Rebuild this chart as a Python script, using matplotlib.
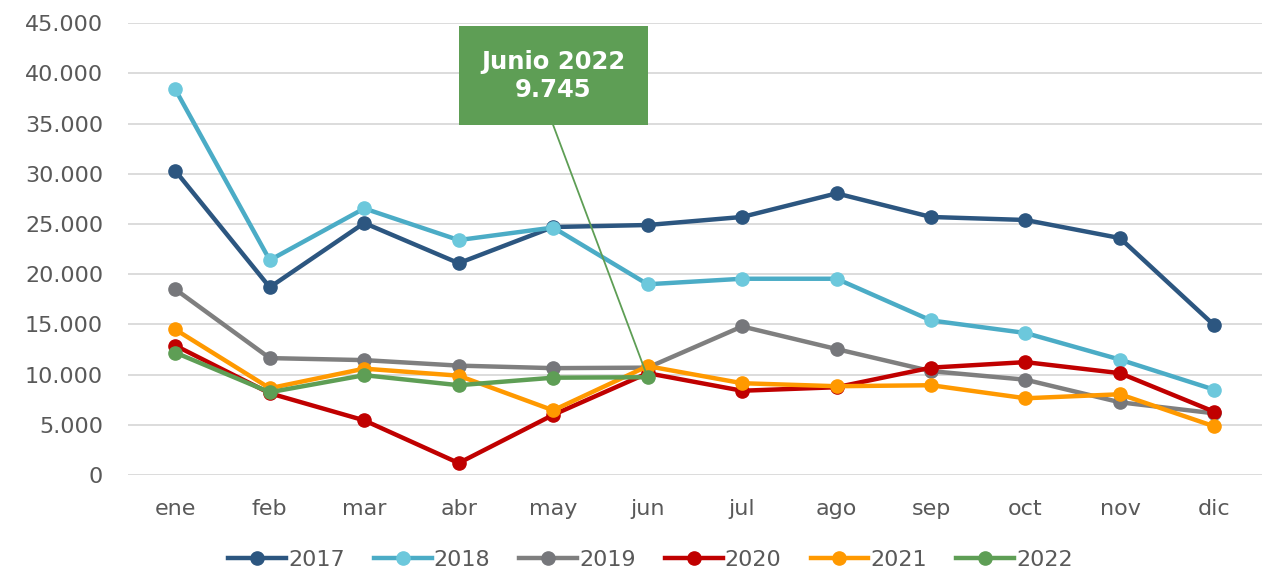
import matplotlib.pyplot as plt
from matplotlib.patches import Rectangle
from matplotlib.ticker import FuncFormatter, MultipleLocator

# meses y series
MESES = ["ene", "feb", "mar", "abr", "may", "jun", "jul", "ago", "sep", "oct", "nov", "dic"]
Y2017 = [30300, 18700, 25100, 21100, 24700, 24900, 25700, 28050, 25700, 25400, 23600, 14900]
Y2018 = [38400, 21400, 26550, 23400, 24650, 19000, 19550, 19550, 15400, 14150, 11500, 8500]
Y2019 = [18500, 11650, 11450, 10900, 10650, 10700, 14800, 12550, 10350, 9500, 7250, 6150]
Y2020 = [12900, 8150, 5450, 1200, 6000, 10150, 8400, 8750, 10700, 11250, 10150, 6300]
Y2021 = [14500, 8650, 10600, 9900, 6450, 10850, 9150, 8850, 8950, 7650, 8050, 4850]
Y2022 = [12200, 8250, 9950, 8950, 9700, 9745]

SERIES = [
    ("2017", Y2017, "#2c5680", "#2c5680"),
    ("2018", Y2018, "#4bacc6", "#6cc8dc"),
    ("2019", Y2019, "#7f7f7f", "#76777b"),
    ("2020", Y2020, "#c00000", "#c00000"),
    ("2021", Y2021, "#ff9900", "#ff9900"),
    ("2022", Y2022, "#5e9e55", "#5e9e55"),
]

plt.rcParams['font.family'] = ['DejaVu Sans']

fig = plt.figure(figsize=(12.68, 5.78), dpi=100)
ax = fig.add_axes([0.101, 0.178, 0.894, 0.782])

for nombre, vals, color, mcolor in SERIES:
    ax.plot(range(len(vals)), vals, color=color, lw=3.2, marker='o', ms=9.5,
            markerfacecolor=mcolor, markeredgecolor=mcolor, label=nombre, zorder=3)

ax.set_xlim(-0.5, len(MESES) - 0.5)
ax.set_ylim(0, 45000)
ax.yaxis.set_major_locator(MultipleLocator(5000))
ax.yaxis.set_major_formatter(FuncFormatter(lambda v, p: f"{int(v):,}".replace(",", ".")))
ax.set_xticks(range(len(MESES)))
ax.set_xticklabels(MESES)
ax.tick_params(axis='both', length=0, labelsize=16, labelcolor="#595959")
ax.tick_params(axis='x', pad=17)
ax.tick_params(axis='y', pad=18)
ax.grid(axis='y', color="#d9d9d9", lw=1.3)
ax.set_axisbelow(True)
for s in ax.spines.values():
    s.set_visible(False)

# recuadro de la anotacion de junio 2022
verde = "#5e9e55"
ax.add_patch(Rectangle((3, 34850), 2, 9850, facecolor=verde, edgecolor='none', zorder=5))
ax.plot([4, 5], [34850, Y2022[5]], color=verde, lw=1.3, zorder=4)
ax.text(4, 39700, "Junio 2022\n" + f"{Y2022[5]:,}".replace(",", "."), ha='center', va='center',
        color='white', fontsize=17.5, fontweight='bold', linespacing=1.2, zorder=6)

leg = fig.legend(loc='lower center', ncol=6, frameon=False, bbox_to_anchor=(0.513, -0.02),
                 fontsize=16, handlelength=2.6, columnspacing=1.3, handletextpad=0.1)
for t in leg.get_texts():
    t.set_color("#595959")

fig.savefig("out.png", dpi=100)
